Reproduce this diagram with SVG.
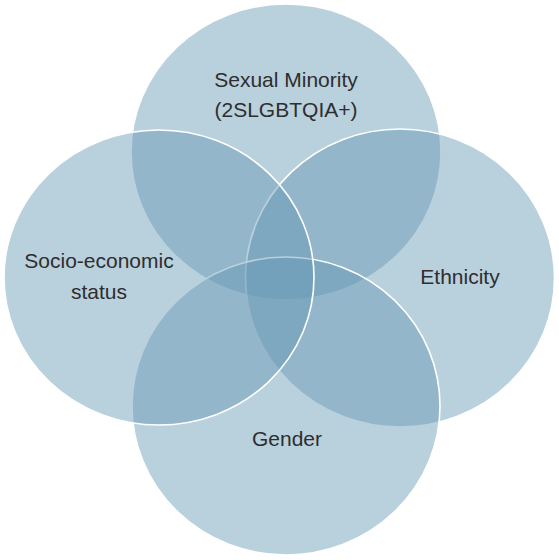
<svg xmlns="http://www.w3.org/2000/svg" width="559" height="560" viewBox="0 0 559 560">
<style>
.set{fill:#6699b5;fill-opacity:0.46;stroke:#ffffff;stroke-width:1.6}
.lbl{font-family:"Liberation Sans",Arial,sans-serif;font-size:21px;fill:#2e2e2e;text-anchor:middle}
</style>
<rect width="559" height="560" fill="#ffffff"/>
<g id="circles">
<ellipse id="c-sexual-minority" class="set" cx="286" cy="152" rx="155" ry="148"/>
<ellipse id="c-ethnicity" class="set" cx="400" cy="278" rx="154.5" ry="149"/>
<ellipse id="c-gender" class="set" cx="286" cy="406" rx="154" ry="149"/>
<ellipse id="c-socio-economic" class="set" cx="159" cy="277.5" rx="155" ry="147.5"/>
</g>
<g id="sexual-minority">
<text class="lbl" x="286" y="87">Sexual Minority</text>
<text class="lbl" x="286" y="117">(2SLGBTQIA+)</text>
</g>
<g id="socio-economic">
<text class="lbl" x="99" y="268">Socio-economic</text>
<text class="lbl" x="99" y="299">status</text>
</g>
<g id="ethnicity">
<text class="lbl" x="460" y="284">Ethnicity</text>
</g>
<g id="gender">
<text class="lbl" x="287" y="446">Gender</text>
</g>
<g id="connectors"/>
</svg>
